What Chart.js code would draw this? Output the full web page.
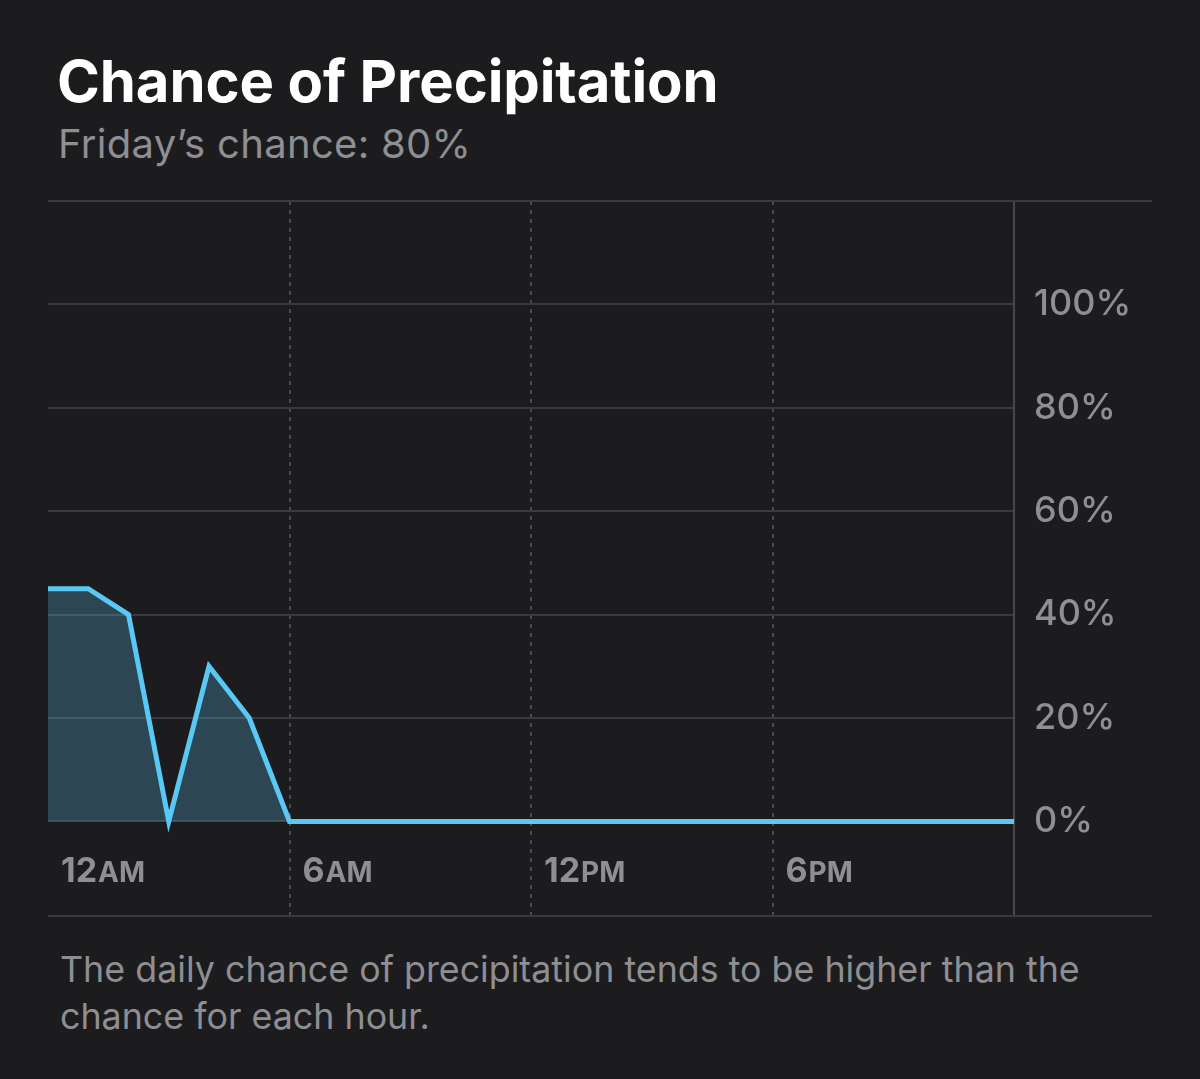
<!DOCTYPE html>
<html>
<head>
<meta charset="utf-8">
<script src="https://cdn.jsdelivr.net/npm/chart.js@4.4.1/dist/chart.umd.min.js"></script>
<style>
  html, body { margin:0; padding:0; background:#1c1c1e; width:1200px; height:1079px; overflow:hidden; }
  .title { position:absolute; left:57px; top:52px; font-family:Inter, "Noto Sans", sans-serif; font-weight:650; font-size:58px; color:#ffffff; letter-spacing:-0.1px; line-height:1; white-space:nowrap; }
  .sub { position:absolute; left:58px; top:124px; font-family:Inter, "Noto Sans", sans-serif; font-weight:400; font-size:40px; color:#8e8e93; line-height:1; letter-spacing:0.3px; white-space:nowrap; }
  .foot { position:absolute; left:60px; top:946px; width:1070px; font-family:Inter, "Noto Sans", sans-serif; font-weight:400; font-size:35.8px; color:#8e8e93; line-height:47px; }
  #wrap { position:absolute; left:0; top:180px; width:1200px; height:760px; }
</style>
</head>
<body>
<div class="title">Chance of Precipitation</div>
<div class="sub">Friday’s chance: 80%</div>
<div id="wrap"><canvas id="c"></canvas></div>
<div class="foot">The daily chance of precipitation tends to be higher than the chance for each hour.</div>
<script>
const hours = [0,1,2,3,4,5,6,7,8,9,10,11,12,13,14,15,16,17,18,19,20,21,22,23,24];
const chance = [45,45,40,0,30,20,0,0,0,0,0,0,0,0,0,0,0,0,0,0,0,0,0,0,0];
const xTickValues = [6,12,18,24];
const xLabelHours = [0,6,12,18];
const xTickLabels = [["12","AM"],["6","AM"],["12","PM"],["6","PM"]];
const yTickValues = [0,20,40,60,80,100];

const frame = {
  id:'frame',
  afterDraw(chart){
    const {ctx, chartArea, scales} = chart;
    ctx.save();
    ctx.strokeStyle = '#3a3a3c';
    ctx.lineWidth = 2;
    ctx.beginPath();
    ctx.moveTo(chartArea.left, chartArea.top); ctx.lineTo(1152, chartArea.top);
    ctx.moveTo(chartArea.left, chartArea.bottom); ctx.lineTo(1152, chartArea.bottom);
    ctx.stroke();
    ctx.fillStyle = '#8e8e93';
    ctx.textBaseline = 'alphabetic';
    const yb = scales.y.getPixelForValue(0) + 61;
    xLabelHours.forEach((h,i)=>{
      let x = scales.x.getPixelForValue(h) + 13;
      ctx.font = '650 34px Inter, "Noto Sans", sans-serif';
      ctx.fillText(xTickLabels[i][0], x, yb);
      x += ctx.measureText(xTickLabels[i][0]).width + 1;
      ctx.font = '650 28px Inter, "Noto Sans", sans-serif';
      ctx.fillText(xTickLabels[i][1], x, yb);
    });
    ctx.restore();
  }
};

new Chart(document.getElementById('c'), {
  type:'line',
  data:{
    datasets:[{
      data: hours.map((h,i)=>({x:h, y:chance[i]})),
      borderColor:'#5ac8f5',
      backgroundColor:'rgba(90,200,245,0.25)',
      borderWidth:5,
      fill:'origin',
      pointRadius:0,
      tension:0,
      borderJoinStyle:'miter'
    }]
  },
  options:{
    responsive:true,
    maintainAspectRatio:false,
    animation:false,
    devicePixelRatio:1,
    layout:{ padding:{ left:48, top:21, right:0, bottom:24 } },
    plugins:{ legend:{display:false}, tooltip:{enabled:false} },
    scales:{
      x:{
        type:'linear', min:0, max:24,
        afterBuildTicks(s){ s.ticks = xTickValues.map(v=>({value:v})); },
        afterFit(s){ s.height = 0; s.paddingLeft = 0; s.paddingRight = 0; },
        ticks:{ display:false },
        grid:{ color:(c)=> c.tick && c.tick.value===24 ? 'rgba(0,0,0,0)' : '#4a4a4d', lineWidth:2, drawTicks:false },
        border:{ display:false, dash:[4,5] }
      },
      y:{
        position:'right',
        min:-18.3, max:120,
        afterBuildTicks(s){ s.ticks = yTickValues.map(v=>({value:v})); },
        afterFit(s){ s.width = 186; s.paddingTop = 0; s.paddingBottom = 0; },
        ticks:{ color:'#8e8e93', padding:20, font:{ family:'Inter, "Noto Sans", sans-serif', size:36, weight:'500' }, callback:(v)=> v+'%' },
        grid:{ color:'#3a3a3c', lineWidth:2, drawTicks:false },
        border:{ display:true, color:'#48484a', width:2 }
      }
    }
  },
  plugins:[frame]
});
</script>
</body>
</html>
